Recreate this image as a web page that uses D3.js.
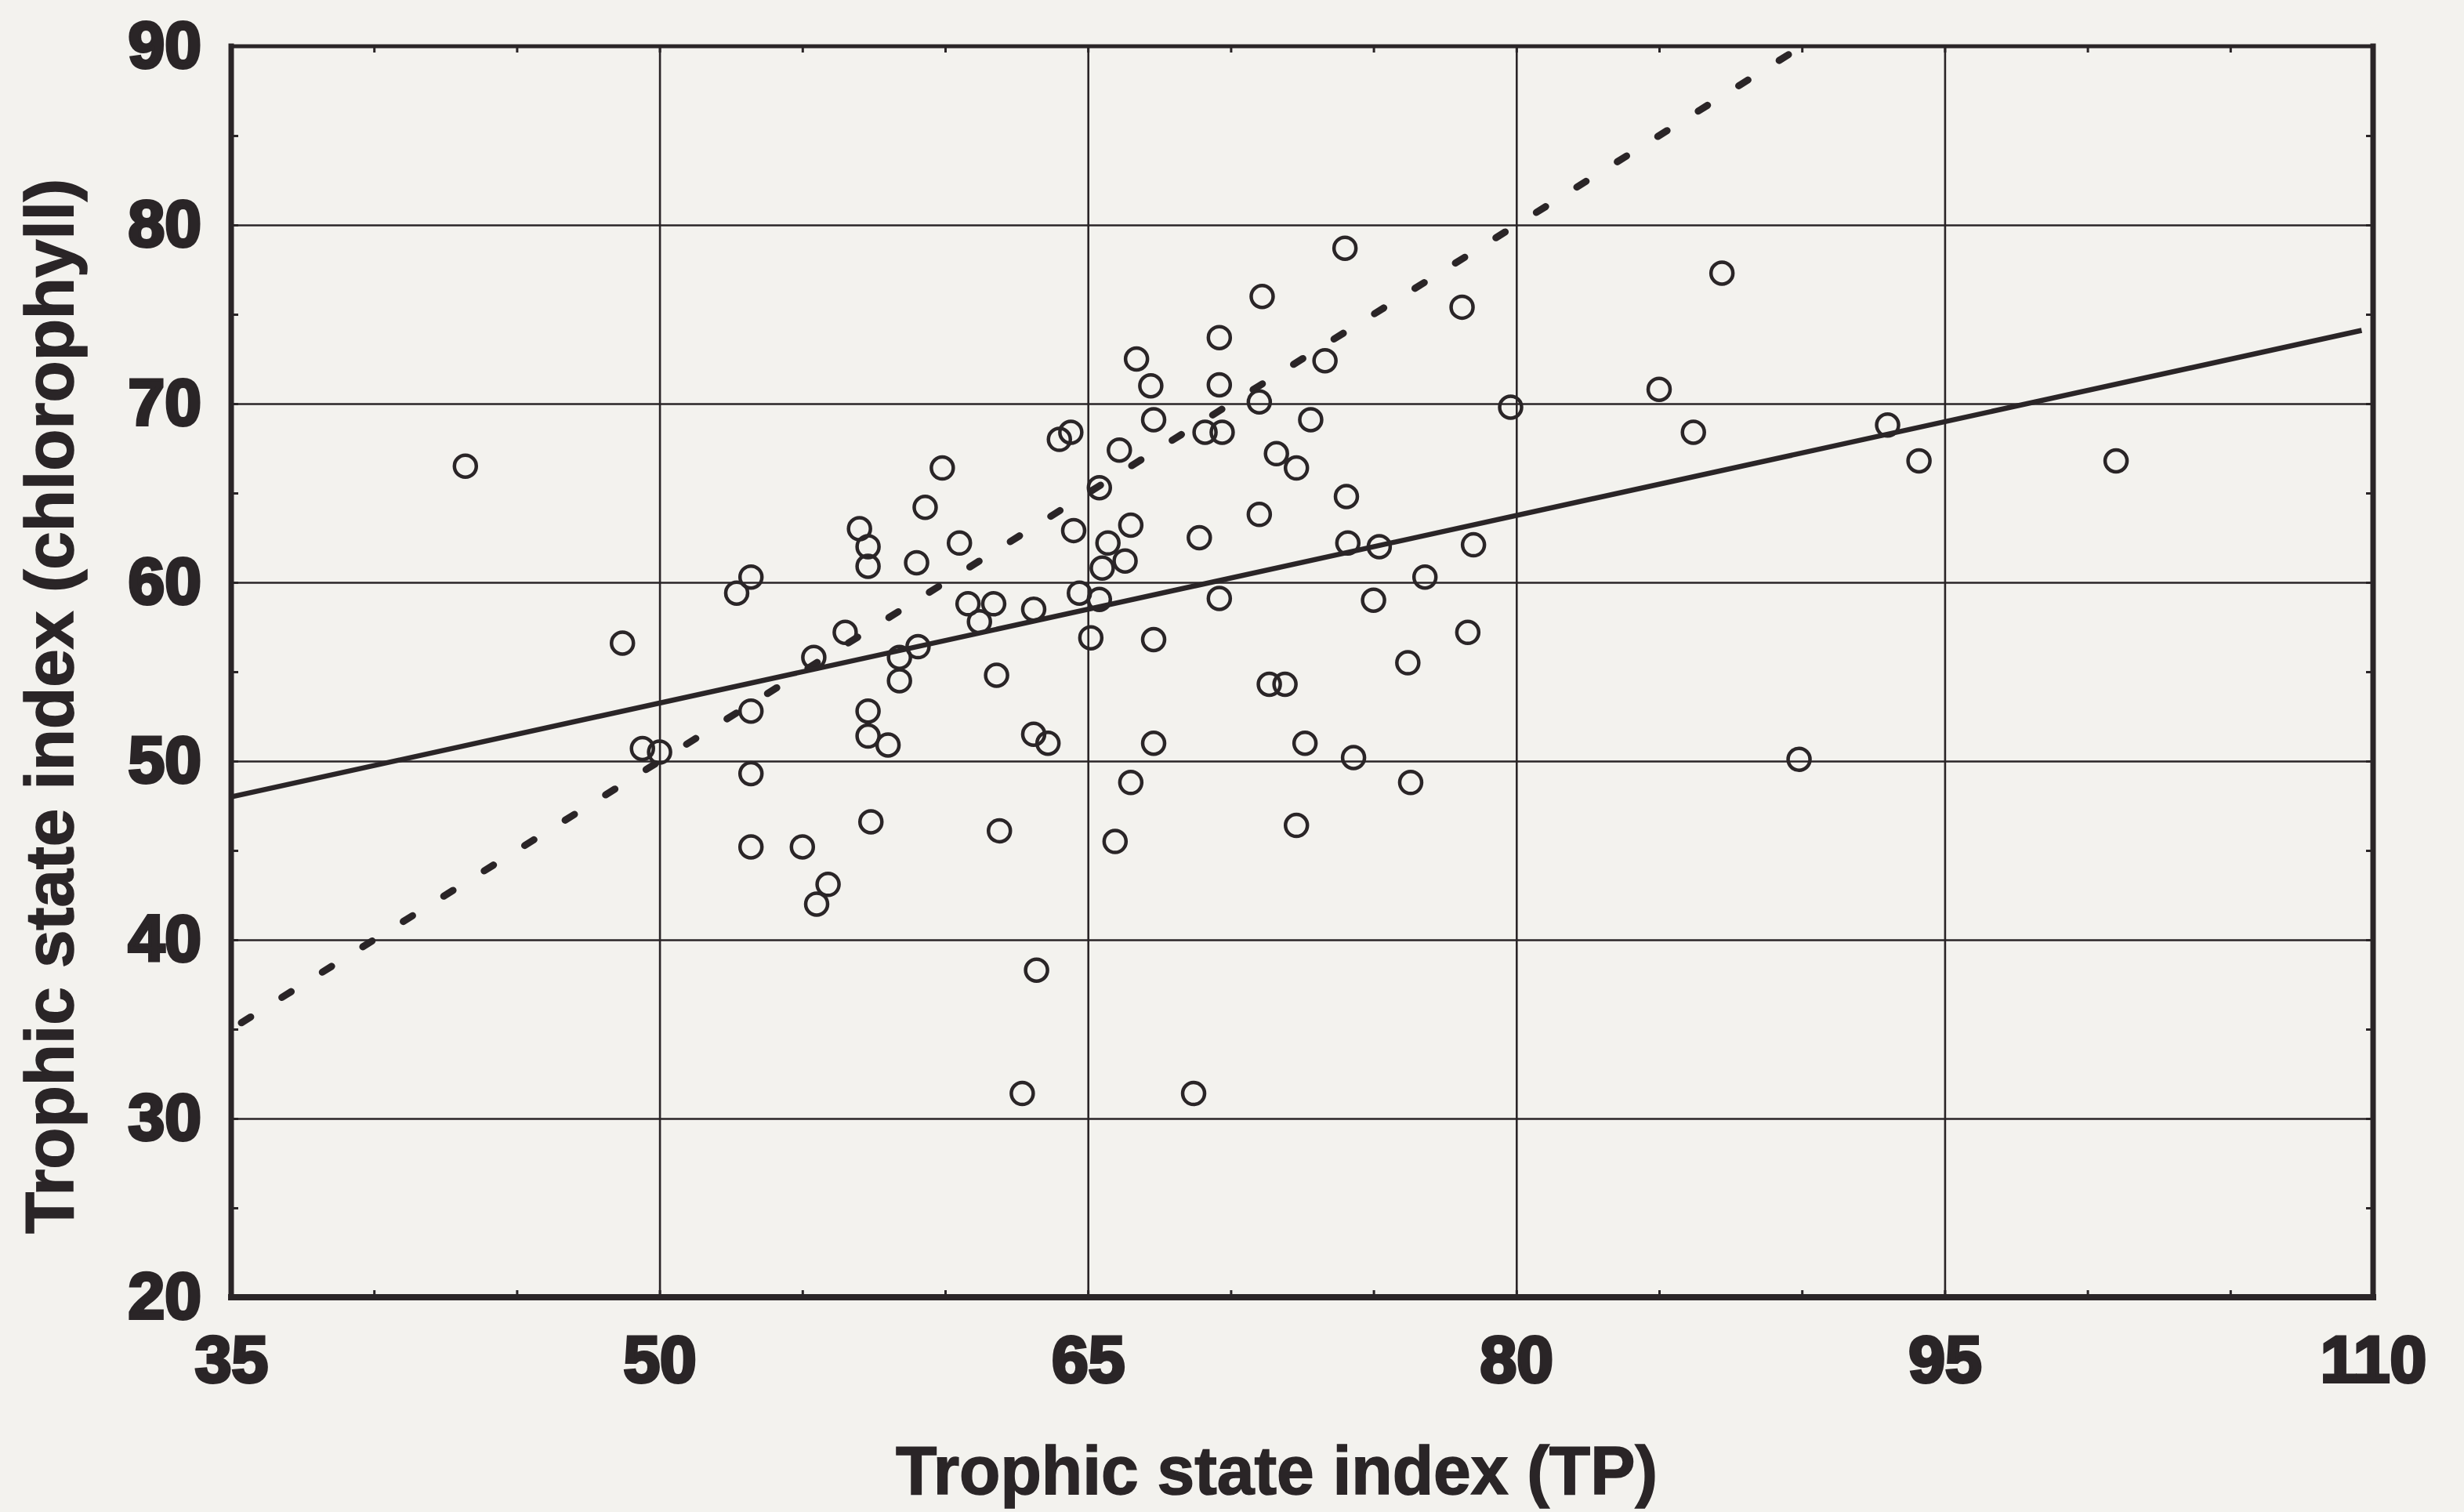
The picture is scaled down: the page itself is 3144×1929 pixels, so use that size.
<!DOCTYPE html>
<html>
<head>
<meta charset="utf-8">
<title>trophic state index scatter</title>
<script src="https://cdn.jsdelivr.net/npm/d3@7"></script>
<style>
    body { margin: 0; background: #f3f2ee; }
    svg { display: block; background: #f3f2ee; }
</style>
</head>
<body>
<svg id="chart" width="3144" height="1929"></svg>
<script>
// lake observations: TSI(TP) vs TSI(chlorophyll)
const tsiTP = [
    43.2, 48.7, 49.4, 50.0, 52.7, 53.2, 53.2, 53.2, 53.2, 55.0,
    55.4, 55.9, 55.5, 56.5, 57.0, 57.3, 57.3, 57.3, 57.3, 58.0,
    57.4, 58.4, 59.05, 58.4, 59.0, 59.3, 59.9, 60.5, 60.8, 61.7,
    61.2, 61.8, 61.9, 62.7, 63.1, 63.1, 63.6, 63.2, 64.0, 64.4,
    64.5, 64.7, 65.1, 65.4, 65.4, 65.5, 65.7, 65.95, 66.1, 66.3,
    66.5, 66.5, 66.7, 67.2, 67.3, 67.3, 67.3, 68.7, 68.9, 69.1,
    69.7, 69.6, 69.6, 69.6, 71.0, 71.0, 71.1, 71.35, 71.9, 71.6,
    72.3, 72.6, 72.3, 72.8, 73.3, 74.0, 74.05, 74.1, 74.3, 75.0,
    75.2, 76.2, 76.3, 76.8, 78.1, 78.3, 78.5, 79.8, 85.0, 86.2,
    87.2, 89.9, 93.0, 94.1, 101.0
];
const tsiChl = [
    66.5, 56.6, 50.7, 50.5, 59.4, 60.3, 52.8, 49.3, 45.2, 45.2,
    55.8, 43.1, 42.0, 57.2, 63.0, 62.0, 60.9, 52.8, 51.4, 50.9,
    46.6, 55.8, 56.4, 54.5, 61.1, 64.2, 66.4, 62.2, 58.8, 58.8,
    57.8, 54.8, 46.1, 31.4, 58.5, 51.5, 51.0, 38.3, 68.0, 68.4,
    62.9, 59.4, 56.9, 65.3, 59.05, 60.8, 62.2, 45.5, 67.4, 61.2,
    63.2, 48.8, 72.5, 71.0, 69.1, 56.8, 51.0, 31.4, 62.5, 68.4,
    68.4, 73.7, 71.05, 59.1, 70.1, 63.8, 76.0, 54.3, 54.3, 67.2,
    66.4, 51.0, 46.4, 69.1, 72.4, 78.7, 64.8, 62.2, 50.2, 59.0,
    62.0, 55.5, 48.8, 60.3, 75.4, 57.2, 62.1, 69.8, 70.8, 68.4,
    77.3, 50.1, 68.8, 66.8, 66.8
];

// regression line and 1:1 line
const fitX = [35, 109.6];
const fitY = [48.0, 74.1];
const oneToOne = [35, 90];

const xTicks = [35, 50, 65, 80, 95, 110];
const yTicks = [20, 30, 40, 50, 60, 70, 80, 90];
const xGrid = [50, 65, 80, 95];
const yGrid = [30, 40, 50, 60, 70, 80];
const xMinor = d3.range(40, 110, 5);
const yMinor = d3.range(25, 90, 5);

const xTitle = "Trophic state index (TP)";
const yTitle = "Trophic state index (chlorophyll)";

const W = 3144, H = 1929;
const m = {l: 295, t: 59, r: 116, b: 274};
const ink = "#2a2527";

const svg = d3.select("#chart");
const x = d3.scaleLinear().domain([35, 110]).range([m.l, W - m.r]);
const y = d3.scaleLinear().domain([20, 90]).range([H - m.b, m.t]);
const innerH = H - m.b - m.t, innerW = W - m.l - m.r;

function inkLines(g, w) {
    g.select(".domain").remove();
    g.selectAll("line").attr("stroke", ink).attr("stroke-width", w);
}

// grid
svg.append("g").attr("transform", `translate(0,${H - m.b})`)
    .call(d3.axisBottom(x).tickValues(xGrid).tickSize(-innerH).tickFormat(""))
    .call(g => inkLines(g, 2.6));
svg.append("g").attr("transform", `translate(${m.l},0)`)
    .call(d3.axisLeft(y).tickValues(yGrid).tickSize(-innerW).tickFormat(""))
    .call(g => inkLines(g, 2.6));

// small inward ticks on all four sides
svg.append("g").attr("transform", `translate(0,${H - m.b})`)
    .call(d3.axisBottom(x).tickValues(xMinor).tickSize(-9).tickFormat(""))
    .call(g => inkLines(g, 3));
svg.append("g").attr("transform", `translate(0,${m.t})`)
    .call(d3.axisTop(x).tickValues(xMinor).tickSize(-8).tickFormat(""))
    .call(g => inkLines(g, 3));
svg.append("g").attr("transform", `translate(${m.l},0)`)
    .call(d3.axisLeft(y).tickValues(yMinor).tickSize(-9).tickFormat(""))
    .call(g => inkLines(g, 3));
svg.append("g").attr("transform", `translate(${W - m.r},0)`)
    .call(d3.axisRight(y).tickValues(yMinor).tickSize(-9).tickFormat(""))
    .call(g => inkLines(g, 3));

// frame
const frame = svg.append("g").attr("stroke", ink).attr("stroke-linecap", "square");
frame.append("line").attr("x1", m.l).attr("x2", W - m.r).attr("y1", m.t).attr("y2", m.t).attr("stroke-width", 5);
frame.append("line").attr("x1", W - m.r).attr("x2", W - m.r).attr("y1", m.t).attr("y2", H - m.b).attr("stroke-width", 7);
frame.append("line").attr("x1", m.l).attr("x2", m.l).attr("y1", m.t).attr("y2", H - m.b).attr("stroke-width", 7);
frame.append("line").attr("x1", m.l).attr("x2", W - m.r).attr("y1", H - m.b).attr("y2", H - m.b).attr("stroke-width", 8);

// tick labels
function labelStyle(g) {
    g.select(".domain").remove();
    g.selectAll("text")
        .attr("fill", ink).attr("stroke", ink).attr("stroke-width", 4)
        .style("font-family", "'Liberation Sans', Arial, sans-serif")
        .style("font-weight", "bold").style("font-size", "84px");
}
svg.append("g").attr("transform", `translate(0,${H - m.b})`)
    .call(d3.axisBottom(x).tickValues(xTicks).tickSize(0).tickPadding(48))
    .call(labelStyle);
svg.append("g").attr("transform", `translate(${m.l},0)`)
    .call(d3.axisLeft(y).tickValues(yTicks).tickSize(0).tickPadding(38))
    .call(labelStyle);

// 1:1 dotted line
const ref = svg.append("path")
    .attr("d", d3.line().x(d => x(d)).y(d => y(d))(oneToOne))
    .attr("fill", "none").attr("stroke", ink)
    .attr("stroke-width", 9).attr("stroke-linecap", "round");
const step = 1.417;
const period = Math.hypot(x(35 + step) - x(35), y(35) - y(35 + step));
const first = Math.hypot(x(35.52) - x(35), y(35) - y(35.52));
ref.attr("stroke-dasharray", `14 ${period - 14}`)
   .attr("stroke-dashoffset", period - (first - 7));

// regression line
svg.append("path")
    .attr("d", d3.line().x(d => x(d[0])).y(d => y(d[1]))(d3.zip(fitX, fitY)))
    .attr("fill", "none").attr("stroke", ink).attr("stroke-width", 6.5);

// points
svg.append("g").selectAll("circle")
    .data(d3.zip(tsiTP, tsiChl))
    .join("circle")
    .attr("cx", d => x(d[0])).attr("cy", d => y(d[1])).attr("r", 14)
    .attr("fill", "none").attr("stroke", ink).attr("stroke-width", 4.5);

// axis titles
svg.append("text")
    .attr("x", 1629).attr("y", 1906)
    .attr("text-anchor", "middle")
    .attr("textLength", 972).attr("lengthAdjust", "spacingAndGlyphs")
    .attr("fill", ink).attr("stroke", ink).attr("stroke-width", 1.5)
    .style("font-family", "'Liberation Sans Narrow', 'Liberation Sans', Arial, sans-serif")
    .style("font-weight", "bold").style("font-size", "88px")
    .text(xTitle);
svg.append("text")
    .attr("transform", "rotate(-90)")
    .attr("x", -901).attr("y", 93)
    .attr("text-anchor", "middle")
    .attr("textLength", 1346).attr("lengthAdjust", "spacingAndGlyphs")
    .attr("fill", ink).attr("stroke", ink).attr("stroke-width", 1.5)
    .style("font-family", "'Liberation Sans Narrow', 'Liberation Sans', Arial, sans-serif")
    .style("font-weight", "bold").style("font-size", "88px")
    .text(yTitle);
</script>
</body>
</html>
